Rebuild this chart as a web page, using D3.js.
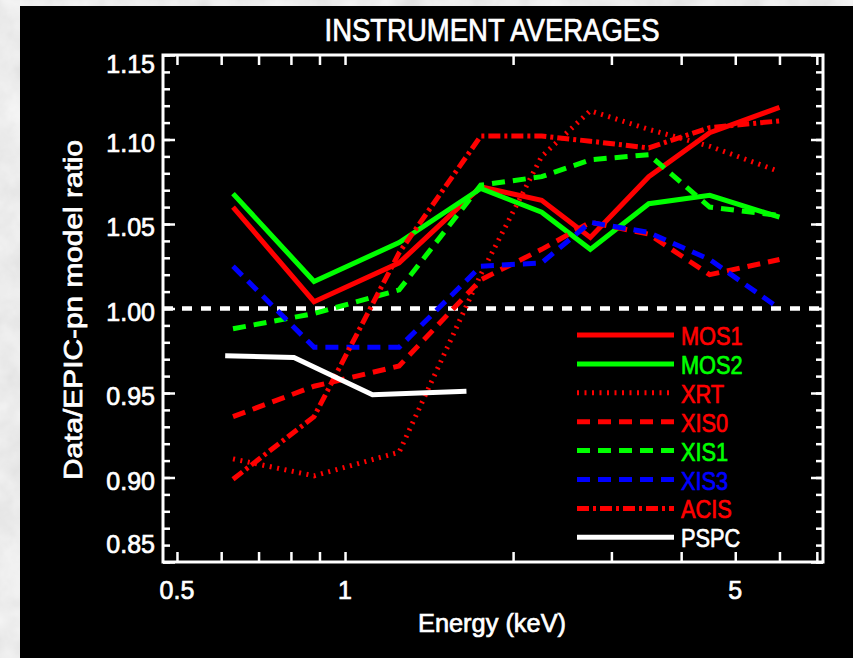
<!DOCTYPE html>
<html>
<head>
<meta charset="utf-8">
<script src="https://cdnjs.cloudflare.com/ajax/libs/d3/7.8.5/d3.min.js"></script>
<style>
body { margin: 0; background: #d0d0d0; }
svg { display: block; }
text { font-family: "Liberation Sans", Arial, sans-serif; fill: #fff; stroke: #fff; stroke-width: 0.7px; }
</style>
</head>
<body>
<div id="chart"></div>
<script>
// band centres (keV) and instrument / EPIC-pn ratios
var energy = [0.63, 0.88, 1.25, 1.75, 2.25, 2.75, 3.5, 4.5, 6.0];
var mos1 = [1.060, 1.004, 1.027, 1.072, 1.064, 1.042, 1.078, 1.104, 1.119];
var mos2 = [1.068, 1.016, 1.039, 1.071, 1.057, 1.035, 1.062, 1.067, 1.054];
var xrt  = [0.911, 0.901, 0.915, 1.020, 1.090, 1.117, 1.106, 1.096, 1.081];
var xis0 = [0.936, 0.954, 0.966, 1.017, 1.035, 1.051, 1.044, 1.020, 1.029];
var xis1 = [0.988, 0.997, 1.011, 1.073, 1.078, 1.088, 1.091, 1.060, 1.055];
var xis3 = [1.025, 0.977, 0.977, 1.025, 1.027, 1.051, 1.045, 1.029, 1.000];
var acis = [0.899, 0.936, 1.033, 1.102, 1.102, 1.099, 1.095, 1.107, 1.111];
var pspcEnergy = [0.61, 0.81, 1.12, 1.65];
var pspc = [0.972, 0.971, 0.949, 0.951];

var names = ["MOS1", "MOS2", "XRT", "XIS0", "XIS1", "XIS3", "ACIS", "PSPC"];
var xTicks = [0.5, 0.6, 0.7, 0.8, 0.9, 1, 2, 3, 4, 5, 6, 7];
var xLabels = [0.5, 1, 5];
var yMajor = [0.85, 0.90, 0.95, 1.00, 1.05, 1.10, 1.15];
var yMinor = d3.range(85, 116).map(function(v){ return v / 100; });

// line styles per instrument
var styles = {
    MOS1: {color: "#ff0000", dash: null},
    MOS2: {color: "#00ff00", dash: null},
    XRT:  {color: "#ff0000", dash: "2,5.5"},
    XIS0: {color: "#ff0000", dash: "13,8"},
    XIS1: {color: "#00ff00", dash: "13,8"},
    XIS3: {color: "#0000ff", dash: "13,8"},
    ACIS: {color: "#ff0000", dash: "12,4,3,4"},
    PSPC: {color: "#ffffff", dash: null}
};
var series = [
    {name: "MOS1", e: energy, v: mos1},
    {name: "MOS2", e: energy, v: mos2},
    {name: "XRT",  e: energy, v: xrt},
    {name: "XIS0", e: energy, v: xis0},
    {name: "XIS1", e: energy, v: xis1},
    {name: "XIS3", e: energy, v: xis3},
    {name: "ACIS", e: energy, v: acis},
    {name: "PSPC", e: pspcEnergy, v: pspc}
];

var W = 853, H = 658;
var plotLeft = 163, plotRight = 823, plotTop = 55, plotBottom = 562;

var svg = d3.select("#chart").append("svg")
            .attr("width", W)
            .attr("height", H);

// marble-ish backdrop
var filter = svg.append("defs").append("filter")
                .attr("id", "marble")
                .attr("x", 0).attr("y", 0)
                .attr("width", "100%").attr("height", "100%");
filter.append("feTurbulence")
      .attr("type", "fractalNoise")
      .attr("baseFrequency", "0.03")
      .attr("numOctaves", 4)
      .attr("seed", 7);
filter.append("feColorMatrix")
      .attr("type", "matrix")
      .attr("values", "0.13 0.13 0.13 0 0.64  0.13 0.13 0.13 0 0.64  0.13 0.13 0.13 0 0.64  0 0 0 0 1");
svg.append("rect").attr("width", W).attr("height", H).attr("filter", "url(#marble)");
svg.append("rect").attr("x", 20).attr("y", 6).attr("width", W - 20).attr("height", H - 6).attr("fill", "#000");

var x = d3.scaleLog().domain([0.472, 7.18]).range([plotLeft, plotRight]);
var y = d3.scaleLinear().domain([0.85, 1.15]).range([plotBottom, plotTop]);

// ticks (inward, on all four sides)
function ticks(axis, tx, size, vals) {
    var g = svg.append("g")
               .attr("transform", tx)
               .call(axis.tickValues(vals).tickSizeInner(size).tickSizeOuter(0).tickFormat(""));
    g.select(".domain").remove();
    g.selectAll("line").attr("stroke", "#fff").attr("stroke-width", 2.5);
}
ticks(d3.axisBottom(x), "translate(0," + plotBottom + ")", -10, xTicks);
ticks(d3.axisTop(x), "translate(0," + plotTop + ")", -10, xTicks);
ticks(d3.axisLeft(y), "translate(" + plotLeft + ",0)", -7, yMinor);
ticks(d3.axisLeft(y), "translate(" + plotLeft + ",0)", -12, yMajor);
ticks(d3.axisRight(y), "translate(" + plotRight + ",0)", -7, yMinor);
ticks(d3.axisRight(y), "translate(" + plotRight + ",0)", -12, yMajor);

svg.append("rect")
   .attr("x", plotLeft).attr("y", plotTop)
   .attr("width", plotRight - plotLeft).attr("height", plotBottom - plotTop)
   .attr("fill", "none")
   .attr("stroke", "#fff")
   .attr("stroke-width", 3);

// tick labels
svg.selectAll(".xl").data(xLabels).enter().append("text")
   .attr("x", d => x(d))
   .attr("y", 599)
   .attr("text-anchor", "middle")
   .style("font-size", "25px")
   .text(d => d);

svg.selectAll(".yl").data(yMajor).enter().append("text")
   .attr("x", 155)
   .attr("y", d => Math.min(Math.max(y(d) + 12, plotTop + 18), plotBottom - 9))
   .attr("text-anchor", "end")
   .style("font-size", "25px")
   .text(d => d3.format(".2f")(d));

// titles
svg.append("text")
   .attr("x", 492).attr("y", 41)
   .attr("text-anchor", "middle")
   .attr("textLength", 335).attr("lengthAdjust", "spacingAndGlyphs")
   .style("font-size", "31px")
   .text("INSTRUMENT AVERAGES");

svg.append("text")
   .attr("x", 492).attr("y", 632)
   .attr("text-anchor", "middle")
   .attr("textLength", 148).attr("lengthAdjust", "spacingAndGlyphs")
   .style("font-size", "26px")
   .text("Energy (keV)");

svg.append("text")
   .attr("transform", "translate(82,310) rotate(-90)")
   .attr("text-anchor", "middle")
   .attr("textLength", 340).attr("lengthAdjust", "spacingAndGlyphs")
   .style("font-size", "26px")
   .text("Data/EPIC-pn model ratio");

// reference line at 1.00
svg.append("line")
   .attr("x1", plotLeft).attr("x2", plotRight)
   .attr("y1", y(1)).attr("y2", y(1))
   .attr("stroke", "#fff")
   .attr("stroke-width", 4.5)
   .attr("stroke-dasharray", "10,9");

// instrument curves
var line = d3.line()
             .x(d => x(d[0]))
             .y(d => y(d[1]));

svg.selectAll(".curve").data(series).enter().append("path")
   .attr("d", s => line(s.e.map((e, i) => [e, s.v[i]])))
   .attr("fill", "none")
   .attr("stroke", s => styles[s.name].color)
   .attr("stroke-width", 5)
   .attr("stroke-dasharray", s => styles[s.name].dash);

// legend
var legend = svg.selectAll(".legend").data(names).enter().append("g")
                .attr("transform", (d, i) => "translate(0," + (335 + i * 28.9) + ")");
legend.append("line")
      .attr("x1", 577).attr("x2", 674)
      .attr("stroke", d => styles[d].color)
      .attr("stroke-width", 5)
      .attr("stroke-dasharray", d => styles[d].dash);
legend.append("text")
      .attr("x", 681).attr("y", 10)
      .style("font-size", "25px")
      .style("fill", d => styles[d].color)
      .style("stroke", d => styles[d].color)
      .text(d => d)
      .attr("textLength", function(){ return this.getComputedTextLength() * 0.87; })
      .attr("lengthAdjust", "spacingAndGlyphs");
</script>
</body>
</html>
